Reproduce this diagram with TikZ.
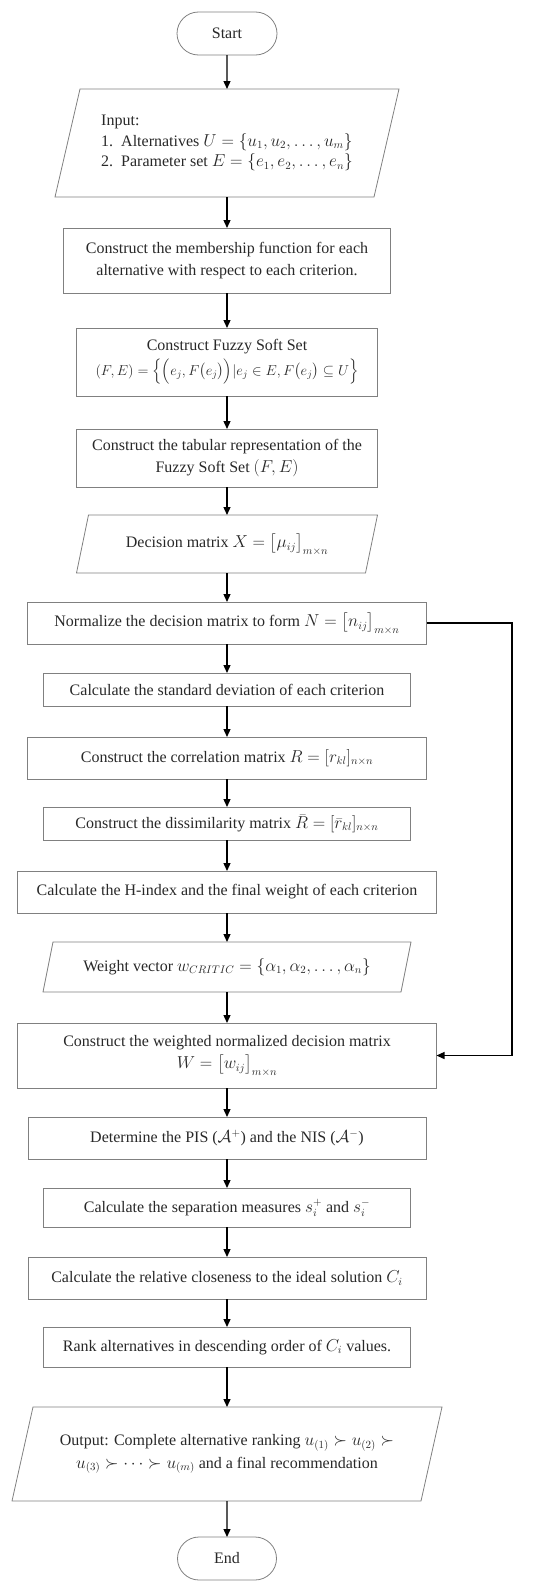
\documentclass[tikz,border=0pt]{standalone}
\usepackage{amsmath,amssymb}
\usepackage{fontspec}
\setmainfont{Liberation Serif}
\usetikzlibrary{arrows.meta,shapes.misc}
\definecolor{boxgray}{RGB}{128,128,128}
\definecolor{txt}{RGB}{40,40,40}
\tikzset{
  base/.style={inner sep=0pt, outer sep=0pt, text=txt, align=center,
    font=\fontsize{16}{22.5}\selectfont},
  proc/.style={base, draw=boxgray, line width=0.8pt, rectangle},
  term/.style={base, draw=boxgray, line width=0.8pt, rounded rectangle},
  iohold/.style={base, rectangle},
  iob/.style={draw=boxgray, line width=0.8pt},
  arr/.style={draw=black, line width=1.3pt, -{Triangle[length=8pt,width=7pt]}},
  wh/.style 2 args={minimum width=#1pt, minimum height=#2pt},
}
\begin{document}
\begin{tikzpicture}[x=1pt,y=-1pt]
\useasboundingbox (0,0) rectangle (550,1590);
\node[term, wh={100}{43}] (start) at (227,33.5) {Start};
\node[iohold, wh={344}{108}, align=left, font=\fontsize{16}{20.5}\selectfont] (inp) at (227,143) {Input:\\
1.\ \ Alternatives $U=\{u_1,u_2,\ldots,u_m\}$\\
2.\ \ Parameter set $E=\{e_1,e_2,\ldots,e_n\}$};
\draw[iob] ([xshift=25pt]inp.north west) -- (inp.north east) -- ([xshift=-25pt]inp.south east) -- (inp.south west) -- cycle;
\node[proc, wh={327}{65}] (memb) at (227,260.5) {Construct the membership function for each\\alternative with respect to each criterion.};
\node[proc, wh={301}{68}] (fss) at (227,362) {Construct Fuzzy Soft Set\\[2pt]
{\fontsize{14}{16}\selectfont $(F,E)=\Bigl\{\Bigl(e_j,F\bigl(e_j\bigr)\Bigr)|e_j\in E,F\bigl(e_j\bigr)\subseteq U\Bigr\}$}};
\node[proc, wh={301}{58}] (tab) at (227,458) {Construct the tabular representation of the\\Fuzzy Soft Set $(F,E)$};
\node[iohold, wh={301}{58}] (dm) at (227,544) {Decision matrix $X=\bigl[\mu_{ij}\bigr]_{m\times n}$};
\draw[iob] ([xshift=12pt]dm.north west) -- (dm.north east) -- ([xshift=-12pt]dm.south east) -- (dm.south west) -- cycle;
\node[proc, wh={399}{42}] (norm) at (227,623) {Normalize the decision matrix to form $N=\bigl[n_{ij}\bigr]_{m\times n}$};
\node[proc, wh={367}{33}] (std) at (227,689.5) {Calculate the standard deviation of each criterion};
\node[proc, wh={399}{42}] (corr) at (227,758) {Construct the correlation matrix $R=[r_{kl}]_{n\times n}$};
\node[proc, wh={367}{33}] (diss) at (227,823.5) {Construct the dissimilarity matrix $\bar{R}=[\bar{r}_{kl}]_{n\times n}$};
\node[proc, wh={419}{42}] (hidx) at (227,892) {Calculate the H-index and the final weight of each criterion};
\node[iohold, wh={368}{50}] (wv) at (227,967) {Weight vector $w_{CRITIC}=\{\alpha_1,\alpha_2,\ldots,\alpha_n\}$};
\draw[iob] ([xshift=10pt]wv.north west) -- (wv.north east) -- ([xshift=-10pt]wv.south east) -- (wv.south west) -- cycle;
\node[proc, wh={419}{65}] (wm) at (227,1055.5) {Construct the weighted normalized decision matrix\\$W=\bigl[w_{ij}\bigr]_{m\times n}$};
\node[proc, wh={398}{42}] (pis) at (227,1138) {Determine the PIS ($\mathcal{A}^{+}$) and the NIS ($\mathcal{A}^{-}$)};
\node[proc, wh={367}{39}] (sep) at (227,1207.5) {Calculate the separation measures $s_i^{+}$ and $s_i^{-}$};
\node[proc, wh={398}{42}] (clo) at (227,1278) {Calculate the relative closeness to the ideal solution $C_i$};
\node[proc, wh={367}{40}] (rank) at (227,1347) {Rank alternatives in descending order of $C_i$ values.};
\node[iohold, wh={430}{94}] (out) at (227,1454) {Output: Complete alternative ranking $u_{(1)}\succ u_{(2)}\succ$\\
$u_{(3)}\succ\cdots\succ u_{(m)}$ and a final recommendation};
\draw[iob] ([xshift=21pt]out.north west) -- (out.north east) -- ([xshift=-21pt]out.south east) -- (out.south west) -- cycle;
\node[term, wh={99}{43}] (end) at (227,1558.5) {End};
\draw[arr] (start) -- (inp);
\draw[arr] (inp) -- (memb);
\draw[arr] (memb) -- (fss);
\draw[arr] (fss) -- (tab);
\draw[arr] (tab) -- (dm);
\draw[arr] (dm) -- (norm);
\draw[arr] (norm) -- (std);
\draw[arr] (std) -- (corr);
\draw[arr] (corr) -- (diss);
\draw[arr] (diss) -- (hidx);
\draw[arr] (hidx) -- (wv);
\draw[arr] (wv) -- (wm);
\draw[arr] (wm) -- (pis);
\draw[arr] (pis) -- (sep);
\draw[arr] (sep) -- (clo);
\draw[arr] (clo) -- (rank);
\draw[arr] (rank) -- (out);
\draw[arr] (out) -- (end);
\coordinate (fb) at (512,623);
\draw[arr] (norm.east) -- (fb) |- (wm.east);
\end{tikzpicture}
\end{document}
